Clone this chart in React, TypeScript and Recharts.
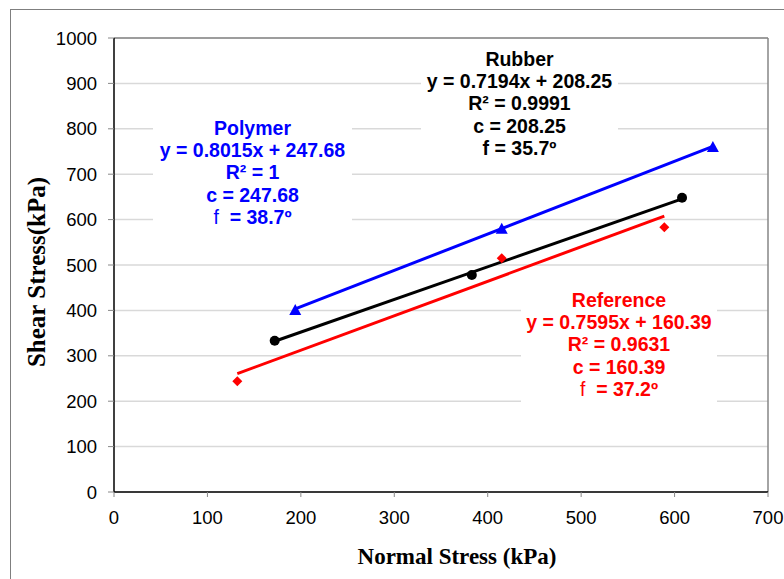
import React from 'react';
import {
  ScatterChart, Scatter, XAxis, YAxis, CartesianGrid, ReferenceLine,
} from 'recharts';

// measured points (kPa)
const polymerX = [194, 415, 641];
const polymerY = [401, 580, 760];
const rubberX = [172, 383, 608];
const rubberY = [333, 478, 648];
const referenceX = [132, 415, 589];
const referenceY = [244, 515, 583];

// linear fits shown on the chart: [slope, intercept]
const polymerFit = [0.8015, 247.68];
const rubberFit = [0.7194, 208.25];
const referenceFit = [0.7595, 160.39];

const xTicks = [0, 100, 200, 300, 400, 500, 600, 700];
const yTicks = [0, 100, 200, 300, 400, 500, 600, 700, 800, 900, 1000];

const polymerText = ['Polymer', 'y = 0.8015x + 247.68', 'R² = 1', 'c = 247.68', 'f  = 38.7º'];
const rubberText = ['Rubber', 'y = 0.7194x + 208.25', 'R² = 0.9991', 'c = 208.25', 'f = 35.7º'];
const referenceText = ['Reference', 'y = 0.7595x + 160.39', 'R² = 0.9631', 'c = 160.39', 'f  = 37.2º'];

const BLUE = '#0000ff';
const RED = '#ff0000';
const BLACK = '#000000';

const pts = (xs: number[], ys: number[]) => xs.map((x, i) => ({ x, y: ys[i] }));
const fitLine = (xs: number[], fit: number[]) => {
  const a = xs[0], b = xs[xs.length - 1];
  return [{ x: a, y: fit[0] * a + fit[1] }, { x: b, y: fit[0] * b + fit[1] }];
};

const Triangle = ({ cx, cy }: any) => (
  <polygon points={`${cx},${cy - 6} ${cx - 6},${cy + 5} ${cx + 6},${cy + 5}`} fill={BLUE} />
);
const Dot = ({ cx, cy }: any) => <circle cx={cx} cy={cy} r={5} fill={BLACK} />;
const Diamond = ({ cx, cy }: any) => (
  <polygon points={`${cx},${cy - 5} ${cx + 5},${cy} ${cx},${cy + 5} ${cx - 5},${cy}`} fill={RED} />
);
const NoShape = () => <g />;

const Note = ({ lines, color, left, top, width, height, textTop }: any) => (
  <div style={{
    position: 'absolute', left, top, width, height, background: 'white',
  }}>
    <div style={{
      position: 'absolute', left: -20, right: -20, top: textTop, textAlign: 'center',
      fontFamily: '"Liberation Sans", Arial, sans-serif', fontWeight: 700, fontSize: 19.5,
      lineHeight: '22.2px', color, whiteSpace: 'pre',
    }}>
      {lines.map((l: string, i: number) => {
        if (l.startsWith('f')) {
          const bold = l.startsWith('f =');
          return (
            <div key={i}>
              <span style={{ fontWeight: bold ? 700 : 400 }}>f</span>{l.slice(1)}
            </div>
          );
        }
        return <div key={i}>{l}</div>;
      })}
    </div>
  </div>
);

export default function App() {
  const tickStyle = { fill: '#000', fontSize: 18.5, fontFamily: '"Liberation Sans", Arial, sans-serif' };
  return (
    <div style={{ position: 'relative', width: 784, height: 579, overflow: 'hidden', background: 'white' }}>
      <style>{'body{margin:0}'}</style>
      <div style={{
        position: 'absolute', left: 10, top: 9, width: 900, height: 700,
        borderLeft: '1px solid #7f7f7f', borderTop: '1px solid #7f7f7f',
      }} />
      <div style={{ position: 'absolute', left: 0, top: 0 }}>
        <ScatterChart width={784} height={579} margin={{ top: 38, right: 16, bottom: 57, left: 1 }}>
          <CartesianGrid vertical={false} stroke="#d9d9d9" strokeWidth={1.5} />
          <XAxis
            type="number" dataKey="x" domain={[0, 700]} ticks={xTicks} interval={0}
            height={30} tick={tickStyle} tickSize={5} tickMargin={14}
            axisLine={{ stroke: '#000', strokeWidth: 1.5 }} tickLine={{ stroke: '#888' }}
          />
          <YAxis
            type="number" dataKey="y" domain={[0, 1000]} ticks={yTicks} interval={0}
            width={113} tick={tickStyle} tickSize={6} tickMargin={11}
            axisLine={{ stroke: '#000', strokeWidth: 1.5 }} tickLine={{ stroke: '#888' }}
          />
          <ReferenceLine y={1000} stroke="#868686" strokeWidth={1.5} />
          <ReferenceLine x={700} stroke="#868686" strokeWidth={1.5} />
          <Scatter data={fitLine(referenceX, referenceFit)} line={{ stroke: RED, strokeWidth: 3 }} shape={NoShape} isAnimationActive={false} />
          <Scatter data={fitLine(rubberX, rubberFit)} line={{ stroke: BLACK, strokeWidth: 3 }} shape={NoShape} isAnimationActive={false} />
          <Scatter data={fitLine(polymerX, polymerFit)} line={{ stroke: BLUE, strokeWidth: 3 }} shape={NoShape} isAnimationActive={false} />
          <Scatter data={pts(referenceX, referenceY)} shape={Diamond} isAnimationActive={false} />
          <Scatter data={pts(rubberX, rubberY)} shape={Dot} isAnimationActive={false} />
          <Scatter data={pts(polymerX, polymerY)} shape={Triangle} isAnimationActive={false} />
        </ScatterChart>
      </div>

      <Note lines={polymerText} color={BLUE} left={153} top={113} width={199} height={118} textTop={4} />
      <Note lines={rubberText} color={BLACK} left={421} top={45} width={197} height={118} textTop={3} />
      <Note lines={referenceText} color={RED} left={521} top={286} width={196} height={116} textTop={3} />

      <div style={{
        position: 'absolute', left: 37, top: 272, transform: 'translate(-50%, -50%) rotate(-90deg)',
        fontFamily: '"Liberation Serif", "Times New Roman", serif', fontWeight: 700, fontSize: 25,
        whiteSpace: 'nowrap', color: '#000',
      }}>Shear Stress(kPa)</div>
      <div style={{
        position: 'absolute', left: 457, top: 557, transform: 'translate(-50%, -50%)',
        fontFamily: '"Liberation Serif", "Times New Roman", serif', fontWeight: 700, fontSize: 23,
        whiteSpace: 'nowrap', color: '#000',
      }}>Normal Stress (kPa)</div>
    </div>
  );
}
